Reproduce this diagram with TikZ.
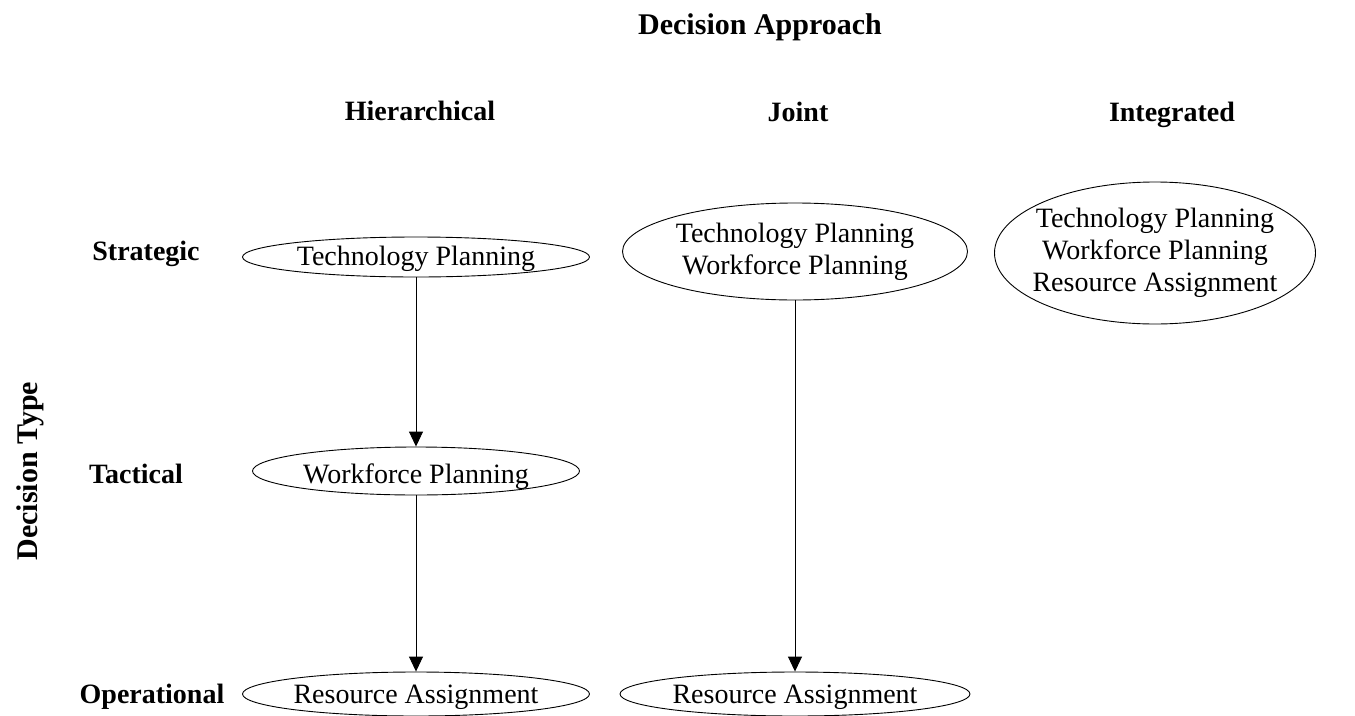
\documentclass[tikz,border=0pt]{standalone}
\usepackage{fontspec}
\setmainfont{Liberation Serif}
\usetikzlibrary{shapes.geometric,arrows.meta}
\begin{document}
\begin{tikzpicture}[x=1pt,y=-1pt,
  ell/.style={draw=black,line width=0.9pt,ellipse,inner sep=0pt},
  etext/.style={font=\fontsize{28}{32}\selectfont,inner sep=0pt,align=center},
  lab/.style={font=\fontsize{28}{32}\selectfont\bfseries,inner sep=0pt,anchor=base},
  arr/.style={line width=0.9pt,-{Triangle[length=15pt,width=14pt]}}]
\useasboundingbox (0,0) rectangle (1355,715);
% headers
\node[lab,font=\fontsize{30}{34}\selectfont\bfseries] (title) at (760,34) {Decision Approach};
\node[lab] (hier) at (420,120) {Hierarchical};
\node[lab] (joint) at (798,121) {Joint};
\node[lab] (integ) at (1172,121) {Integrated};
\node[lab] (strat) at (146,260) {Strategic};
\node[lab] (tact) at (136,483) {Tactical};
\node[lab] (oper) at (152,703) {Operational};
\node[font=\fontsize{30}{34}\selectfont\bfseries,inner sep=0pt,rotate=90] (dtype) at (30,471) {Decision Type};
% ellipses
\node[ell,minimum width=347pt,minimum height=40pt] (e1) at (416,257) {};
\node[ell,minimum width=327pt,minimum height=48pt] (e2) at (416,471) {};
\node[ell,minimum width=347pt,minimum height=44pt] (e3) at (416,694) {};
\node[ell,minimum width=345pt,minimum height=97pt] (e4) at (795,251.5) {};
\node[ell,minimum width=350pt,minimum height=44pt] (e6) at (795,694) {};
\node[ell,minimum width=321pt,minimum height=142pt] (e5) at (1155,253) {};
% texts
\node[etext,anchor=base] (t1) at (416,265) {Technology Planning};
\node[etext,anchor=base] (t2) at (416,483) {Workforce Planning};
\node[etext,anchor=base] (t3) at (416,703) {Resource Assignment};
\node[etext,anchor=base] (t6) at (795,703) {Resource Assignment};
\node[etext] (t4) at (795,252) {Technology Planning\\Workforce Planning};
\node[etext] (t5) at (1155,253) {Technology Planning\\Workforce Planning\\Resource Assignment};
% arrows
\draw[arr] (e1.south) -- (e2.north);
\draw[arr] (e2.south) -- (e3.north);
\draw[arr] (e4.south) -- (e6.north);
\end{tikzpicture}
\end{document}
